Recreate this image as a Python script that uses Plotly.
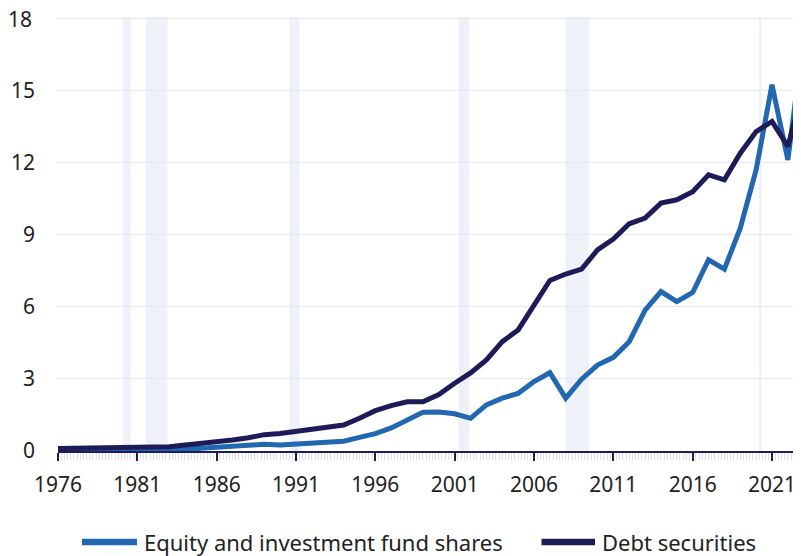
import plotly.graph_objects as go

years = list(range(1976, 2024))
equity = [0.03, 0.03, 0.04, 0.04, 0.05, 0.05, 0.06, 0.07, 0.08, 0.11,
          0.16, 0.19, 0.22, 0.28, 0.25, 0.30, 0.33, 0.37, 0.41, 0.57,
          0.72, 0.96, 1.26, 1.61, 1.62, 1.55, 1.36, 1.92, 2.20, 2.40,
          2.89, 3.26, 2.20, 2.99, 3.58, 3.90, 4.55, 5.87, 6.64, 6.22,
          6.60, 7.96, 7.57, 9.28, 11.71, 15.25, 12.12, 17.30]
debt = [0.10, 0.12, 0.14, 0.14, 0.15, 0.16, 0.17, 0.18, 0.24, 0.31,
        0.39, 0.46, 0.55, 0.68, 0.73, 0.82, 0.87, 1.00, 1.08, 1.36,
        1.68, 1.89, 2.05, 2.05, 2.35, 2.82, 3.25, 3.79, 4.55, 5.04,
        6.05, 7.10, 7.37, 7.57, 8.37, 8.82, 9.46, 9.70, 10.32, 10.46,
        10.80, 11.50, 11.29, 12.40, 13.30, 13.72, 12.68, 15.20]
series_names = ["Equity and investment fund shares", "Debt securities"]
recessions = [(1980.08, 1980.58), (1981.55, 1982.90), (1990.58, 1991.22),
              (2001.25, 2001.90), (2007.99, 2009.46), (2020.19, 2020.34)]
x_ticks = list(range(1976, 2022, 5))
y_ticks = [0, 3, 6, 9, 12, 15, 18]

C_EQ = "#2267B1"
C_DEBT = "#1E1C58"
FONT = "Noto Sans"
TXT = "#222222"

fig = go.Figure()
fig.add_trace(go.Scatter(x=years, y=equity, name=series_names[0], mode="lines",
                         line=dict(color=C_EQ, width=5), showlegend=False))
fig.add_trace(go.Scatter(x=years, y=debt, name=series_names[1], mode="lines",
                         line=dict(color=C_DEBT, width=5), showlegend=False))

shapes = []
for a, b in recessions:
    shapes.append(dict(type="rect", xref="x", yref="paper", x0=a, x1=b, y0=0, y1=1,
                       fillcolor="#EEF1F7", line=dict(width=0), layer="below"))

# positions in window pixels; the page has an 8px body offset
OFF = 8
FIG_W, FIG_H = 801, 556
Y_TOP = 18.07
L, B = 58 - OFF, 451 - OFF
PXU = 24.0            # pixels per y unit
PXY = 15.867          # pixels per year
T = int(round(B - Y_TOP * PXU))
W = float(FIG_W - L)  # plot area runs to the figure's right edge
H = float(B - T)
X_END = 1976 + W / PXY

def px(xp):
    return (xp - OFF - L) / W
ly = (B - (542 - OFF)) / H
legend_items = [(82, 137, 141.5, C_EQ, series_names[0]),
                (541.5, 595, 599.5, C_DEBT, series_names[1])]
annotations = []
for x0, x1, xt, col, name in legend_items:
    shapes.append(dict(type="line", xref="paper", yref="paper", x0=px(x0), x1=px(x1),
                       y0=ly, y1=ly, line=dict(color=col, width=6.5)))
    annotations.append(dict(xref="paper", yref="paper", x=px(xt), y=ly, text=name,
                            showarrow=False, xanchor="left", yanchor="middle",
                            font=dict(family=FONT, size=22, color=TXT)))

# top y tick label (plotly hides it because it touches the figure edge)
y_ticktext = [str(v) for v in y_ticks]
top_label = y_ticktext[-1]
y_ticktext[-1] = ""
annotations.append(dict(xref="paper", yref="y", x=px(34.5), y=y_ticks[-1], text=top_label,
                        showarrow=False, xanchor="right", yanchor="middle",
                        font=dict(family=FONT, size=21, color=TXT)))

fig.update_layout(
    width=FIG_W, height=FIG_H,
    margin=dict(l=L, r=0, t=T, b=FIG_H - B),
    paper_bgcolor="white", plot_bgcolor="white",
    shapes=shapes, annotations=annotations,
    font=dict(family=FONT, size=21, color=TXT),
    xaxis=dict(range=[1976, X_END], tickvals=x_ticks, tickformat="d",
               showgrid=False, zeroline=False,
               showline=True, linecolor=C_DEBT, linewidth=2,
               ticks="outside", ticklen=8, tickwidth=2, tickcolor=C_DEBT,
               ticklabelstandoff=6,
               minor=dict(dtick=0.2, tick0=1976, ticks="outside", ticklen=7,
                          tickcolor="#DCE0EA", tickwidth=1, showgrid=False),
               tickfont=dict(family=FONT, size=21, color=TXT)),
    yaxis=dict(range=[0, Y_TOP], tickvals=y_ticks, ticktext=y_ticktext,
               showgrid=True, gridcolor="#E4E8F0",
               gridwidth=1, zeroline=False, showline=False, ticks="",
               ticklabelstandoff=22, automargin=False,
               tickfont=dict(family=FONT, size=21, color=TXT)),
)

fig.write_html("out.html")
